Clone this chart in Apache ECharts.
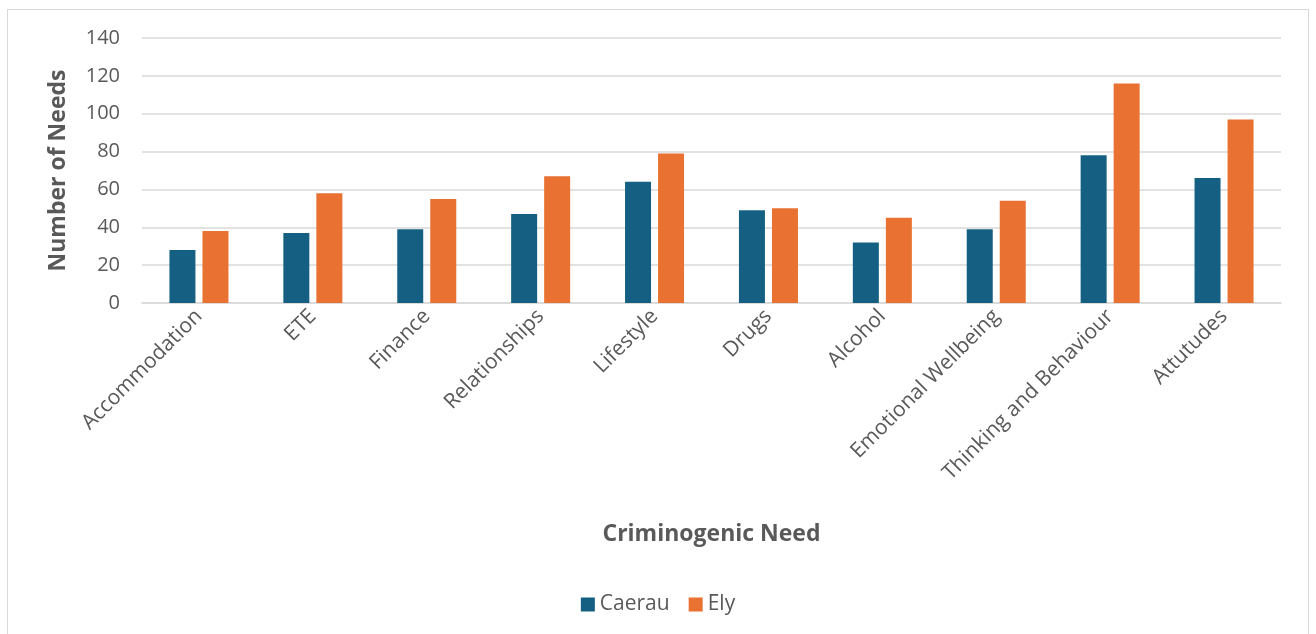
<!DOCTYPE html>
<html><head><meta charset="utf-8">
<script src="https://cdn.jsdelivr.net/npm/echarts@6/dist/echarts.min.js"></script>
<style>
html,body{margin:0;padding:0;background:#fff;}
#frame{position:absolute;left:7px;top:9px;width:1302px;height:640px;border:1px solid #d9d9d9;box-sizing:border-box;}
#c{position:absolute;left:0;top:0;width:1316px;height:634px;}
</style></head>
<body><div id="frame"></div><div id="c"></div>
<script>
const categories = ["Accommodation","ETE","Finance","Relationships","Lifestyle","Drugs","Alcohol","Emotional Wellbeing","Thinking and Behaviour","Attutudes"];
const caerau = [28,37,39,47,64,49,32,39,78,66];
const ely = [38,58,55,67,79,50,45,54,116,97];
const seriesNames = ["Caerau","Ely"];
const yTicks = {min:0,max:140,interval:20};
const FONT = "'Open Sans', 'Liberation Sans', sans-serif";
const chart = echarts.init(document.getElementById('c'));
chart.setOption({
  animation:false,
  textStyle:{fontFamily:FONT},
  grid:{left:142,right:35,top:38,bottom:331},
  legend:{bottom:14,left:'center',itemWidth:14,itemHeight:14,itemGap:19,icon:'rect',
    textStyle:{color:'#595959',fontSize:21,fontFamily:FONT},data:seriesNames},
  xAxis:{type:'category',data:categories,
    name:'Criminogenic Need',nameLocation:'middle',nameGap:220,
    nameTextStyle:{color:'#595959',fontSize:23,fontWeight:'bold',fontFamily:FONT},
    axisLine:{lineStyle:{color:'#d9d9d9',width:1.5}},axisTick:{show:false},
    axisLabel:{rotate:45,color:'#595959',fontSize:21,interval:0,margin:10,fontFamily:FONT}},
  yAxis:{type:'value',min:yTicks.min,max:yTicks.max,interval:yTicks.interval,
    name:'Number of Needs',nameLocation:'middle',nameGap:72,
    nameTextStyle:{color:'#595959',fontSize:23,fontWeight:'bold',fontFamily:FONT},
    axisLine:{show:false},axisTick:{show:false},
    axisLabel:{color:'#595959',fontSize:20,margin:22,fontFamily:FONT},
    splitLine:{lineStyle:{color:'#d9d9d9',width:1.5}}},
  series:[
    {name:seriesNames[0],type:'bar',data:caerau,barWidth:26,barGap:'27%',itemStyle:{color:'#156082'}},
    {name:seriesNames[1],type:'bar',data:ely,barWidth:26,barGap:'27%',itemStyle:{color:'#E97132'}}
  ]
});
</script></body></html>
